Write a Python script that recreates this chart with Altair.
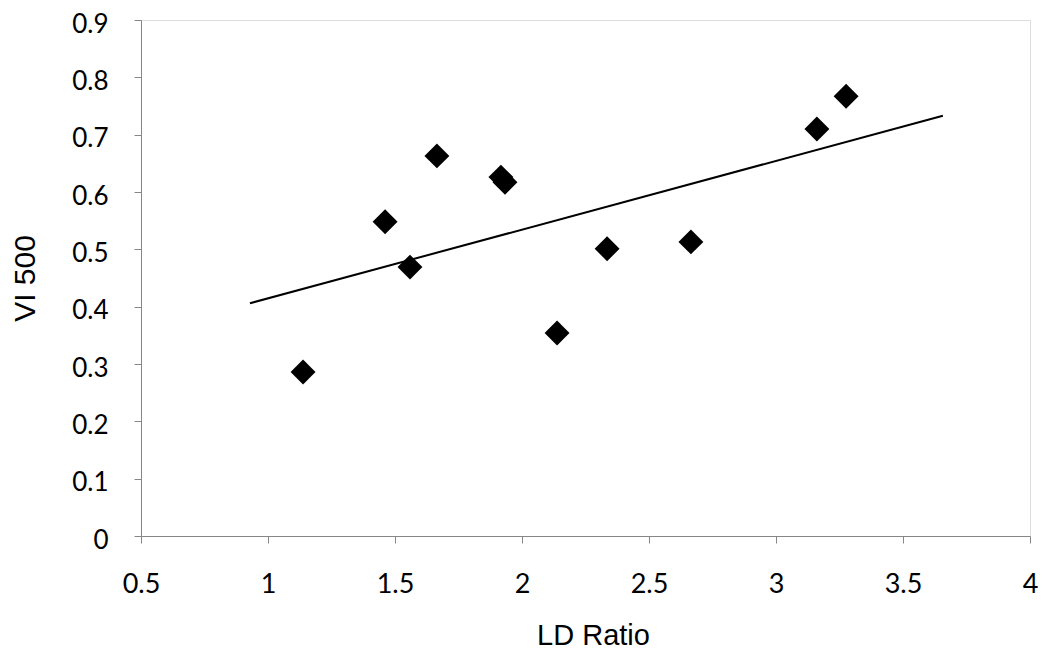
import altair as alt
import pandas as pd

# scatter points
ld_ratio = [1.138, 1.461, 1.559, 1.665, 1.917, 1.933, 2.138, 2.335, 2.665, 3.161, 3.276]
vi_500 = [0.286, 0.548, 0.469, 0.663, 0.626, 0.617, 0.354, 0.501, 0.513, 0.710, 0.767]

# linear trend line end points
trend_x = [0.929, 3.657]
trend_y = [0.406, 0.733]

x_ticks = [0.5, 1, 1.5, 2, 2.5, 3, 3.5, 4]
y_ticks = [0, 0.1, 0.2, 0.3, 0.4, 0.5, 0.6, 0.7, 0.8, 0.9]

pts = pd.DataFrame({"x": ld_ratio, "y": vi_500})
trend = pd.DataFrame({"x": trend_x, "y": trend_y})

axis_color = "#868686"
label_font = "Lato"
title_font = "Liberation Sans"

x_scale = alt.Scale(domain=[0.5, 4], nice=False, zero=False)
y_scale = alt.Scale(domain=[0, 0.9], nice=False, zero=False)

x_axis = alt.Axis(
    values=x_ticks, format=".1~f", grid=False, domainColor=axis_color, tickColor=axis_color,
    tickSize=7, labelFont=label_font, labelFontSize=27, labelColor="black",
    labelPadding=28, labelFlush=False, labelOverlap=False,
    title="LD Ratio", titleFont=title_font, titleFontSize=29,
    titleFontWeight="normal", titleColor="black",
    titleX=452, titleY=99, titleBaseline="middle", titleAlign="center",
)
y_axis = alt.Axis(
    values=y_ticks, format=".1~f", grid=False, domainColor=axis_color, tickColor=axis_color,
    tickSize=7, labelFont=label_font, labelFontSize=26, labelColor="black",
    labelPadding=26, labelOffset=4, labelFlush=False, labelOverlap=False,
    title="VI 500", titleFont=title_font, titleFontSize=30,
    titleFontWeight="normal", titleColor="black",
    titleX=-116, titleY=258, titleAngle=-90, titleBaseline="middle", titleAlign="center",
)

points = alt.Chart(pts).mark_point(
    shape="diamond", filled=True, color="black", size=620, opacity=1
).encode(
    x=alt.X("x:Q", scale=x_scale, axis=x_axis),
    y=alt.Y("y:Q", scale=y_scale, axis=y_axis),
)

line = alt.Chart(trend).mark_line(color="black", strokeWidth=2).encode(
    x=alt.X("x:Q", scale=x_scale),
    y=alt.Y("y:Q", scale=y_scale),
)

chart = alt.layer(line, points).properties(
    width=889, height=516,
    autosize=alt.AutoSizeParams(type="none"),
    padding={"left": 133, "top": 12, "right": 10, "bottom": 121},
).configure_view(stroke=None).configure(background="white")

chart.save("out.html", embed_options={"renderer": "svg", "actions": False})
